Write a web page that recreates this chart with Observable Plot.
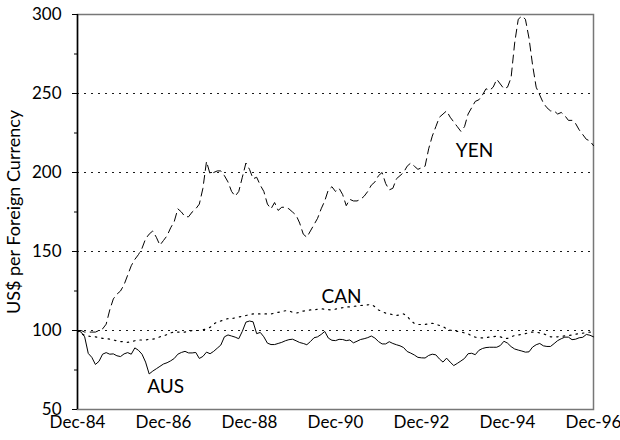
<!DOCTYPE html>
<html><head><meta charset="utf-8">
<script src="https://cdn.jsdelivr.net/npm/d3@7"></script>
<script src="https://cdn.jsdelivr.net/npm/@observablehq/plot@0.6"></script>
<style>body{margin:0;background:#fff}</style>
</head><body><div id="chart"></div>
<script>
// Monthly index values, Dec-84 = 100 (month 0 = Dec-84 ... month 144 = Dec-96)
const yen = [100,100,99,99,99,99,100,101,104,113,120,123,125,129,135,141,145,148,152,158,161,163,159,154,157,160,165,169,177,175,172,172,175,177,180,190,207,199,200,201,201,198,194,188,185,188,197,206,202,196,197,192,188,180,177,181,176,178,178,177,175,173,168,161,159,163,167,171,177,182,189,191,188,190,186,179,183,182,182,183,185,188,192,194,198,200,193,189,190,196,198,200,204,206,204,202,203,204,215,223,229,235,237,239,235,232,229,226,229,237,241,245,246,249,253,252,254,259,256,253,254,260,282,297,299,297,285,268,254,249,244,241,239,239,237,238,236,233,233,231,227,224,221,220,217];
const can = [100,98,97,96.5,96,96,95.5,95,95,94.5,94,93.5,93,93,92.5,93,93.5,94,94,94,94.5,94.5,95,96,96.5,97.5,98.5,99,99,99,99,99.5,100,100,100,100.5,101,102,104,105.5,106,107,107.5,107.5,108,108.5,109,109.5,110,110.5,110.5,110.5,110.5,110.5,110.5,111,111.5,112,112.5,112.5,111.5,111,111.5,112.3,112.5,113,113,113.5,113.7,113.5,113.2,113,113.5,114,114.4,114.8,115,115.3,115.5,115.8,116,116.2,116.5,115,113,112,111,110.5,110,109.5,110,110.5,109,106.3,104.5,103.8,103.8,103.8,104.2,104.6,104,103.2,102.5,101,100.2,100,99.5,99,98.5,98,96.5,95.8,95.5,95.3,95.5,95.8,96,96.5,96,95,95,96,96.8,97.2,97.6,98,98.7,99,99,98.5,98,97,96,96,96,96.3,96.6,96.8,97.2,97.6,98,98.3,98.6,99,99];
const aus = [100,99,96,85.5,83,78.5,80.5,85,86,85,85.2,84,83.5,85.2,86,85,89,87.5,85,80,72.5,74.3,75.8,77.3,78.8,79.6,80.8,82.3,85,86.1,86.8,85.8,85.8,86.1,82.3,83.6,86.3,85.3,86.8,88.8,90.8,96,97.2,96.5,95.8,94.8,99.5,105.3,106,105.5,98,98.8,96,92,91.1,91.1,91.8,92.5,93.5,94.2,94.5,93.5,92.4,91.8,91,93,95.4,96,97.5,99.4,95.2,93.8,93.6,94.4,94.3,93.6,94,92.2,93.2,94.3,94.8,95.5,96.5,95.2,93,91.5,91.5,92.9,91.8,91,90.3,89.2,86.7,85.7,84.5,83,82.7,82.6,84.2,85,84.6,82,80,82.5,80,77.8,79.2,80.7,82.3,85.3,85.6,84.7,87.4,88.6,89.2,89.4,89.4,89.4,90.5,93.2,92,89.8,88.3,87.6,87,86.3,86.5,89.5,91,91.8,90.3,89.9,89.9,91.7,93.6,94.8,95.8,95.8,94.2,94.5,95.4,95.7,97.5,97,96];

const tickLabels = ["Dec-84","Dec-86","Dec-88","Dec-90","Dec-92","Dec-94","Dec-96"];
const tickMonths = [0,24,48,72,96,120,144];
const yTicks = [50,100,150,200,250,300];
const minorTicks = [75,125,175,225,275];
const gridValues = [100,150,200,250];
const yTitle = "US$ per Foreign Currency";
const seriesNames = ["YEN","CAN","AUS"];
const labelMonths = [110.8,73.7,24.6];
const labelValues = [213.5,121,64.6];

const labels = seriesNames.map((n,i)=>({name:n, m:labelMonths[i], v:labelValues[i]}));
const idx = (d,i)=>i;
const val = d=>d;

const chart = Plot.plot({
  width:620, height:440,
  marginLeft:77, marginRight:27, marginTop:14, marginBottom:31,
  style:{fontFamily:"Lato, 'Open Sans', sans-serif", fontSize:"17px", background:"#fff", color:"#000"},
  x:{domain:[0,144]},
  y:{domain:[50,300]},
  marks:[
    Plot.ruleY(gridValues,{stroke:"#000", strokeDasharray:"2,5", strokeWidth:0.9}),
    Plot.frame({stroke:"#777", strokeWidth:1.5}),
    Plot.lineY(can,{x:idx, y:val, stroke:"#000", strokeWidth:1.2, strokeDasharray:"1.5,5"}),
    Plot.lineY(aus,{x:idx, y:val, stroke:"#000", strokeWidth:1}),
    Plot.lineY(yen,{x:idx, y:val, stroke:"#000", strokeWidth:1, strokeDasharray:"8,5"}),
    Plot.axisX({ticks:tickMonths, tickFormat:m=>tickLabels[tickMonths.indexOf(m)], tickSize:0, tickPadding:6, label:null, fontSize:17}),
    Plot.axisY({ticks:yTicks, tickSize:5, tickPadding:11, label:null, fontSize:17}),
    Plot.axisY({ticks:minorTicks, tickSize:3, tickFormat:()=>"", label:null}),
    Plot.ruleX([0],{stroke:"#000", strokeWidth:1.5}),
    Plot.text([yTitle],{frameAnchor:"left", textAnchor:"middle", rotate:-90, dx:-63, fontSize:18, fill:"#000"}),
    Plot.text(labels,{x:"m", y:"v", text:"name", fontSize:19, fill:"#000"})
  ]
});
document.getElementById("chart").appendChild(chart);
</script>
</body></html>
